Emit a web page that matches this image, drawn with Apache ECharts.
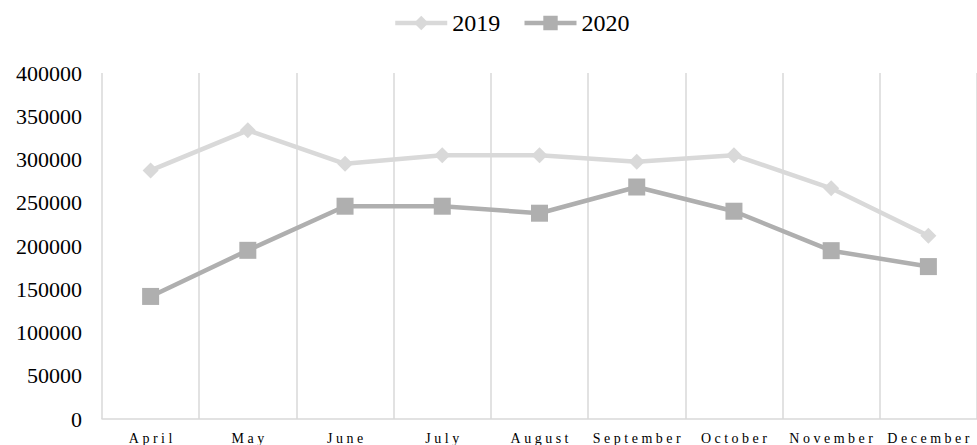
<!DOCTYPE html>
<html>
<head>
<meta charset="utf-8">
<script src="https://cdn.jsdelivr.net/npm/echarts@6/dist/echarts.min.js"></script>
<style>
  html, body { margin: 0; padding: 0; background: #fff; }
  #chart { width: 977px; height: 445px; }
</style>
</head>
<body>
<div id="chart"></div>
<script>
// données
const months = ["April", "May", "June", "July", "August", "September", "October", "November", "December"];
const values2019 = [287400, 333700, 295000, 305000, 305000, 297300, 305000, 266700, 211800];
const values2020 = [141700, 195000, 246000, 246000, 237900, 268200, 240200, 194600, 176200];
const yTicks = [0, 50000, 100000, 150000, 200000, 250000, 300000, 350000, 400000];

const fontFamily = "Liberation Serif";

const chart = echarts.init(document.getElementById("chart"), null, { renderer: "svg" });

const option = {
    animation: false,
    backgroundColor: "#fff",
    textStyle: { fontFamily: fontFamily, color: "#000" },
    legend: {
        top: 6,
        left: 388,
        itemWidth: 52,
        itemHeight: 18,
        itemGap: 22,
        textStyle: { fontSize: 24, fontFamily: fontFamily, color: "#000" },
        lineStyle: { width: 4.5 },
        data: ["2019", "2020"]
    },
    grid: { left: 102, top: 73, width: 887, height: 348 },
    xAxis: {
        type: "category",
        data: months,
        boundaryGap: true,
        axisLine: { lineStyle: { color: "#d9d9d9", width: 1.5 } },
        axisTick: { show: false },
        axisLabel: { fontSize: 14, margin: 12, color: "#000", fontFamily: fontFamily, interval: 0 },
        splitLine: { show: true, interval: 0, lineStyle: { color: "#d9d9d9", width: 1.5 } }
    },
    yAxis: {
        type: "value",
        min: yTicks[0],
        max: yTicks[yTicks.length - 1],
        interval: 50000,
        axisLine: { show: false },
        axisTick: { show: false },
        splitLine: { show: false },
        axisLabel: {
            fontSize: 22, margin: 20, color: "#000", fontFamily: fontFamily,
            formatter: function (v) { return String(v); }
        }
    },
    series: [
        {
            name: "2019",
            type: "line",
            data: values2019,
            symbol: "diamond",
            symbolSize: 16,
            lineStyle: { color: "#d9d9d9", width: 4.5 },
            itemStyle: { color: "#d9d9d9" }
        },
        {
            name: "2020",
            type: "line",
            data: values2020,
            symbol: "rect",
            symbolSize: 17,
            lineStyle: { color: "#afafaf", width: 4.5 },
            itemStyle: { color: "#afafaf" }
        }
    ]
};

chart.setOption(option);

// espacement des lettres des mois (comme dans l'original)
chart.getDom().querySelectorAll("text").forEach(function (t) {
    if (months.indexOf(t.textContent) >= 0) {
        t.style.letterSpacing = "3.5px";
        t.setAttribute("dx", "1.75");
    }
});
</script>
</body>
</html>
